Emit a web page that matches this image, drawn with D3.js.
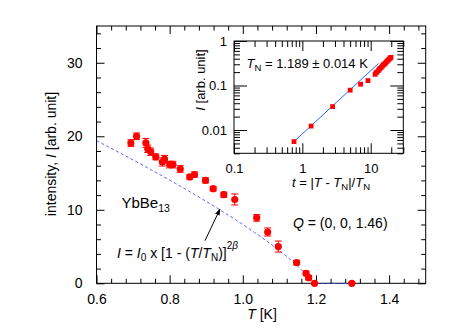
<!DOCTYPE html>
<html><head><meta charset="utf-8">
<script src="https://cdn.jsdelivr.net/npm/d3@7"></script>
<style>
body{margin:0;background:#fff;}
svg{display:block;font-family:"Liberation Sans",Arial,Helvetica,sans-serif;}
</style></head>
<body><svg id="c" width="452" height="331"></svg>
<script>
// ---- main panel data ----
const temps = [0.694,0.7095,0.735,0.740,0.748,0.762,0.780,0.786,0.800,0.809,0.829,0.855,0.868,0.898,0.919,0.948,0.978,1.038,1.068,1.097,1.147,1.173,1.180,1.196,1.298];
const intens = [19.08,20.0,19.1,18.3,17.9,17.2,16.5,16.9,16.15,16.15,15.55,14.47,14.8,14.0,12.87,12.05,11.4,8.9,6.98,5.0,2.82,1.37,0.77,0,0];
const errs = [0.45,0.45,0.6,0.5,0.5,0.4,0.55,0.5,0.45,0.45,0.45,0.3,0.35,0.35,0.3,0.35,0.75,0.45,0.55,0.75,0.3,0.3,0.3,0.1,0.1];
const xTicks = [0.6,0.8,1.0,1.2,1.4];
const yTicks = [0,10,20,30];
// fit parameters (main)
const fitI0 = 33.56, fitTN = 1.189, fit2beta = 0.78, fitTmin = 0.6, fitTend = 1.298;
// ---- inset data ----
const insetT = [0.755,1.344,2.77,5.01,7.11,9.12,11.6,11.95,12.36,12.93,13.37,13.68,14.3,14.8,15.3,15.83,16.37,16.93,17.51,18.11,18.73,19.37,19.82];
const insetI = [0.00549,0.01227,0.0336,0.0786,0.107,0.129,0.178,0.194,0.201,0.2156,0.2309,0.243,0.256,0.2744,0.289,0.304,0.315,0.3375,0.3554,0.3742,0.394,0.415,0.4295];
const insetXTicks = [0.1,1,10];
const insetYTicks = [0.01,0.1,1];
const insetFit = {t0:0.755, I0:0.00549, slope:1.42, t1:13};

const svg = d3.select("#c");
const W = {l:96.5, r:425.7, t:26, b:283.3};
const x = d3.scaleLinear().domain([0.6,1.5]).range([W.l,W.r]);
const y = d3.scaleLinear().domain([0,35]).range([W.b,W.t]);

const fs = 14;
function styleAxis(g){ g.select(".domain").remove(); g.selectAll("line").attr("stroke","#000"); g.selectAll("text").attr("font-size",fs).attr("fill","#000"); }

// minor ticks
const xMinor = d3.range(0,23).map(i=>0.6+i*0.04).filter(v=>Math.abs(v*5-Math.round(v*5))>1e-6);
const yMinor = d3.range(0,35.01,2).filter(v=>v%10!==0);

// bottom
svg.append("g").attr("transform",`translate(0,${W.b})`).call(d3.axisBottom(x).tickValues(xMinor).tickSize(-4.5).tickFormat("")).call(styleAxis);
svg.append("g").attr("transform",`translate(0,${W.b})`).call(d3.axisBottom(x).tickValues(xTicks).tickSize(-8).tickPadding(11).tickFormat(d3.format(".1f"))).call(styleAxis);
// top
svg.append("g").attr("transform",`translate(0,${W.t})`).call(d3.axisTop(x).tickValues(xMinor).tickSize(-4.5).tickFormat("")).call(styleAxis);
svg.append("g").attr("transform",`translate(0,${W.t})`).call(d3.axisTop(x).tickValues(xTicks).tickSize(-8).tickFormat("")).call(styleAxis);
// left
svg.append("g").attr("transform",`translate(${W.l},0)`).call(d3.axisLeft(y).tickValues(yMinor).tickSize(-4.5).tickFormat("")).call(styleAxis);
svg.append("g").attr("transform",`translate(${W.l},0)`).call(d3.axisLeft(y).tickValues(yTicks).tickSize(-8).tickPadding(14)).call(styleAxis);
// right
svg.append("g").attr("transform",`translate(${W.r},0)`).call(d3.axisRight(y).tickValues(yMinor).tickSize(-4.5).tickFormat("")).call(styleAxis);
svg.append("g").attr("transform",`translate(${W.r},0)`).call(d3.axisRight(y).tickValues(yTicks).tickSize(-8).tickFormat("")).call(styleAxis);

svg.append("rect").attr("x",W.l).attr("y",W.t).attr("width",W.r-W.l).attr("height",W.b-W.t).attr("fill","none").attr("stroke","#000").attr("stroke-width",1);

// fit curve
const fitPts = d3.range(fitTmin, fitTN, 0.002).map(T=>[T, fitI0*Math.pow(1-T/fitTN, fit2beta)]);
fitPts.push([fitTN,0]); fitPts.push([fitTend,0]);
svg.append("path").attr("d", d3.line().x(d=>x(d[0])).y(d=>y(d[1]))(fitPts))
  .attr("fill","none").attr("stroke","#3b4cff").attr("stroke-width",1).attr("stroke-dasharray","3,2.5");

// error bars
const data = temps.map((t,i)=>({t, v:intens[i], e:errs[i]}));
const eb = svg.append("g").attr("stroke","#ff0000").attr("stroke-width",1);
data.forEach(d=>{
  eb.append("line").attr("x1",x(d.t)).attr("x2",x(d.t)).attr("y1",y(d.v-d.e)).attr("y2",y(d.v+d.e));
  [d.v-d.e,d.v+d.e].forEach(v=>eb.append("line").attr("x1",x(d.t)-3.5).attr("x2",x(d.t)+3.5).attr("y1",y(v)).attr("y2",y(v)));
});
svg.append("g").selectAll("circle").data(data).join("circle")
  .attr("cx",d=>x(d.t)).attr("cy",d=>y(d.v)).attr("r",3.6).attr("fill","#ff0000");

// labels main
const xl = svg.append("text").attr("x",262).attr("y",319).attr("text-anchor","middle").attr("font-size",fs);
xl.append("tspan").attr("font-style","italic").text("T");
xl.append("tspan").text(" [K]");
const yl = svg.append("text").attr("transform","translate(56,154) rotate(-90)").attr("text-anchor","middle").attr("font-size",fs);
yl.append("tspan").text("intensity, ");
yl.append("tspan").attr("font-style","italic").text("I");
yl.append("tspan").text(" [arb. unit]");

const yb = svg.append("text").attr("x",121.5).attr("y",207.5).attr("font-size",15);
yb.append("tspan").text("YbBe");
yb.append("tspan").attr("font-size",10.5).attr("dy",4).text("13");

const q = svg.append("text").attr("x",293).attr("y",228).attr("font-size",fs);
q.append("tspan").attr("font-style","italic").text("Q");
q.append("tspan").text(" = (0, 0, 1.46)");

const f = svg.append("text").attr("x",117).attr("y",257.5).attr("font-size",fs);
f.append("tspan").attr("font-style","italic").text("I");
f.append("tspan").text(" = ");
f.append("tspan").attr("font-style","italic").text("I");
f.append("tspan").attr("font-size",10).attr("dy",3).text("0");
f.append("tspan").attr("dy",-3).text(" x [1 - (");
f.append("tspan").attr("font-style","italic").text("T");
f.append("tspan").text("/");
f.append("tspan").attr("font-style","italic").text("T");
f.append("tspan").attr("font-size",10).attr("dy",3).text("N");
f.append("tspan").attr("dy",-3).text(")]");
f.append("tspan").attr("font-size",10).attr("dy",-9).text("2");
f.append("tspan").attr("font-size",10).attr("font-style","italic").text("β");

// arrow
svg.append("defs").append("marker").attr("id","ah").attr("viewBox","0 0 10 10").attr("refX",9).attr("refY",5)
  .attr("markerWidth",7).attr("markerHeight",7).attr("orient","auto")
  .append("path").attr("d","M0,1.5 L10,5 L0,8.5 Z").attr("fill","#000");
svg.append("line").attr("x1",x(0.8966)).attr("y1",y(5.8)).attr("x2",x(0.9376)).attr("y2",y(10.1))
  .attr("stroke","#000").attr("stroke-width",1).attr("marker-end","url(#ah)");

// ---- inset ----
const Iw = {l:234, r:403.3, t:41, b:153.3};
const xi = d3.scaleLog().domain([0.1,30]).range([Iw.l,Iw.r]);
const yi = d3.scaleLog().domain([0.003,1]).range([Iw.b,Iw.t]);
const ins = svg.append("g");
ins.append("rect").attr("x",Iw.l).attr("y",Iw.t).attr("width",Iw.r-Iw.l).attr("height",Iw.b-Iw.t).attr("fill","#fff");
const xiMinor = [];
[0.1,1,10].forEach(dc=>{for(let k=2;k<=9;k++){const v=k*dc; if(v<=30) xiMinor.push(v);}});
const yiMinor = [];
[0.001,0.01,0.1].forEach(dc=>{for(let k=2;k<=9;k++){const v=k*dc; if(v>=0.003 && v<=1) yiMinor.push(v);}});
const ifs = 13;
function styleI(g){ g.select(".domain").remove(); g.selectAll("line").attr("stroke","#000"); g.selectAll("text").attr("font-size",ifs).attr("fill","#000"); }
const fmtI = d=>String(d);
ins.append("g").attr("transform",`translate(0,${Iw.b})`).call(d3.axisBottom(xi).tickValues(xiMinor).tickSize(-6).tickFormat("")).call(styleI);
ins.append("g").attr("transform",`translate(0,${Iw.b})`).call(d3.axisBottom(xi).tickValues(insetXTicks).tickSize(-10).tickPadding(10).tickFormat(fmtI)).call(styleI);
ins.append("g").attr("transform",`translate(0,${Iw.t})`).call(d3.axisTop(xi).tickValues(xiMinor).tickSize(-6).tickFormat("")).call(styleI);
ins.append("g").attr("transform",`translate(0,${Iw.t})`).call(d3.axisTop(xi).tickValues(insetXTicks).tickSize(-10).tickFormat("")).call(styleI);
ins.append("g").attr("transform",`translate(${Iw.l},0)`).call(d3.axisLeft(yi).tickValues(yiMinor).tickSize(-6).tickFormat("")).call(styleI);
ins.append("g").attr("transform",`translate(${Iw.l},0)`).call(d3.axisLeft(yi).tickValues(insetYTicks).tickSize(-13).tickPadding(7).tickFormat(fmtI)).call(styleI);
ins.append("g").attr("transform",`translate(${Iw.r},0)`).call(d3.axisRight(yi).tickValues(yiMinor).tickSize(-6).tickFormat("")).call(styleI);
ins.append("g").attr("transform",`translate(${Iw.r},0)`).call(d3.axisRight(yi).tickValues(insetYTicks).tickSize(-13).tickFormat("")).call(styleI);
ins.append("rect").attr("x",Iw.l).attr("y",Iw.t).attr("width",Iw.r-Iw.l).attr("height",Iw.b-Iw.t).attr("fill","none").attr("stroke","#000");

// inset fit line
const fitI = t=>insetFit.I0*Math.pow(t/insetFit.t0, insetFit.slope);
ins.append("line").attr("x1",xi(insetFit.t0)).attr("y1",yi(fitI(insetFit.t0))).attr("x2",xi(insetFit.t1)).attr("y2",yi(fitI(insetFit.t1)))
  .attr("stroke","#2a62ff").attr("stroke-width",1);
ins.append("g").selectAll("rect").data(insetT.map((t,i)=>[t,insetI[i]])).join("rect")
  .attr("x",d=>xi(d[0])-2.4).attr("y",d=>yi(d[1])-2.4).attr("width",4.8).attr("height",4.8).attr("fill","#ff0000");

// inset labels
const tn = ins.append("text").attr("x",246.5).attr("y",67.5).attr("font-size",ifs);
tn.append("tspan").attr("font-style","italic").text("T");
tn.append("tspan").attr("font-size",9.5).attr("dy",3).text("N");
tn.append("tspan").attr("dy",-3).text(" = 1.189 ± 0.014 K");

const ixl = ins.append("text").attr("x",331).attr("y",186.5).attr("text-anchor","middle").attr("font-size",ifs);
ixl.append("tspan").attr("font-style","italic").text("t");
ixl.append("tspan").text(" = |");
ixl.append("tspan").attr("font-style","italic").text("T");
ixl.append("tspan").text(" - ");
ixl.append("tspan").attr("font-style","italic").text("T");
ixl.append("tspan").attr("font-size",9.5).attr("dy",3).text("N");
ixl.append("tspan").attr("dy",-3).text("|/");
ixl.append("tspan").attr("font-style","italic").text("T");
ixl.append("tspan").attr("font-size",9.5).attr("dy",3).text("N");

const iyl = ins.append("text").attr("transform","translate(205,80) rotate(-90)").attr("text-anchor","middle").attr("font-size",ifs);
iyl.append("tspan").attr("font-style","italic").text("I");
iyl.append("tspan").text(" [arb. unit]");
</script></body></html>
